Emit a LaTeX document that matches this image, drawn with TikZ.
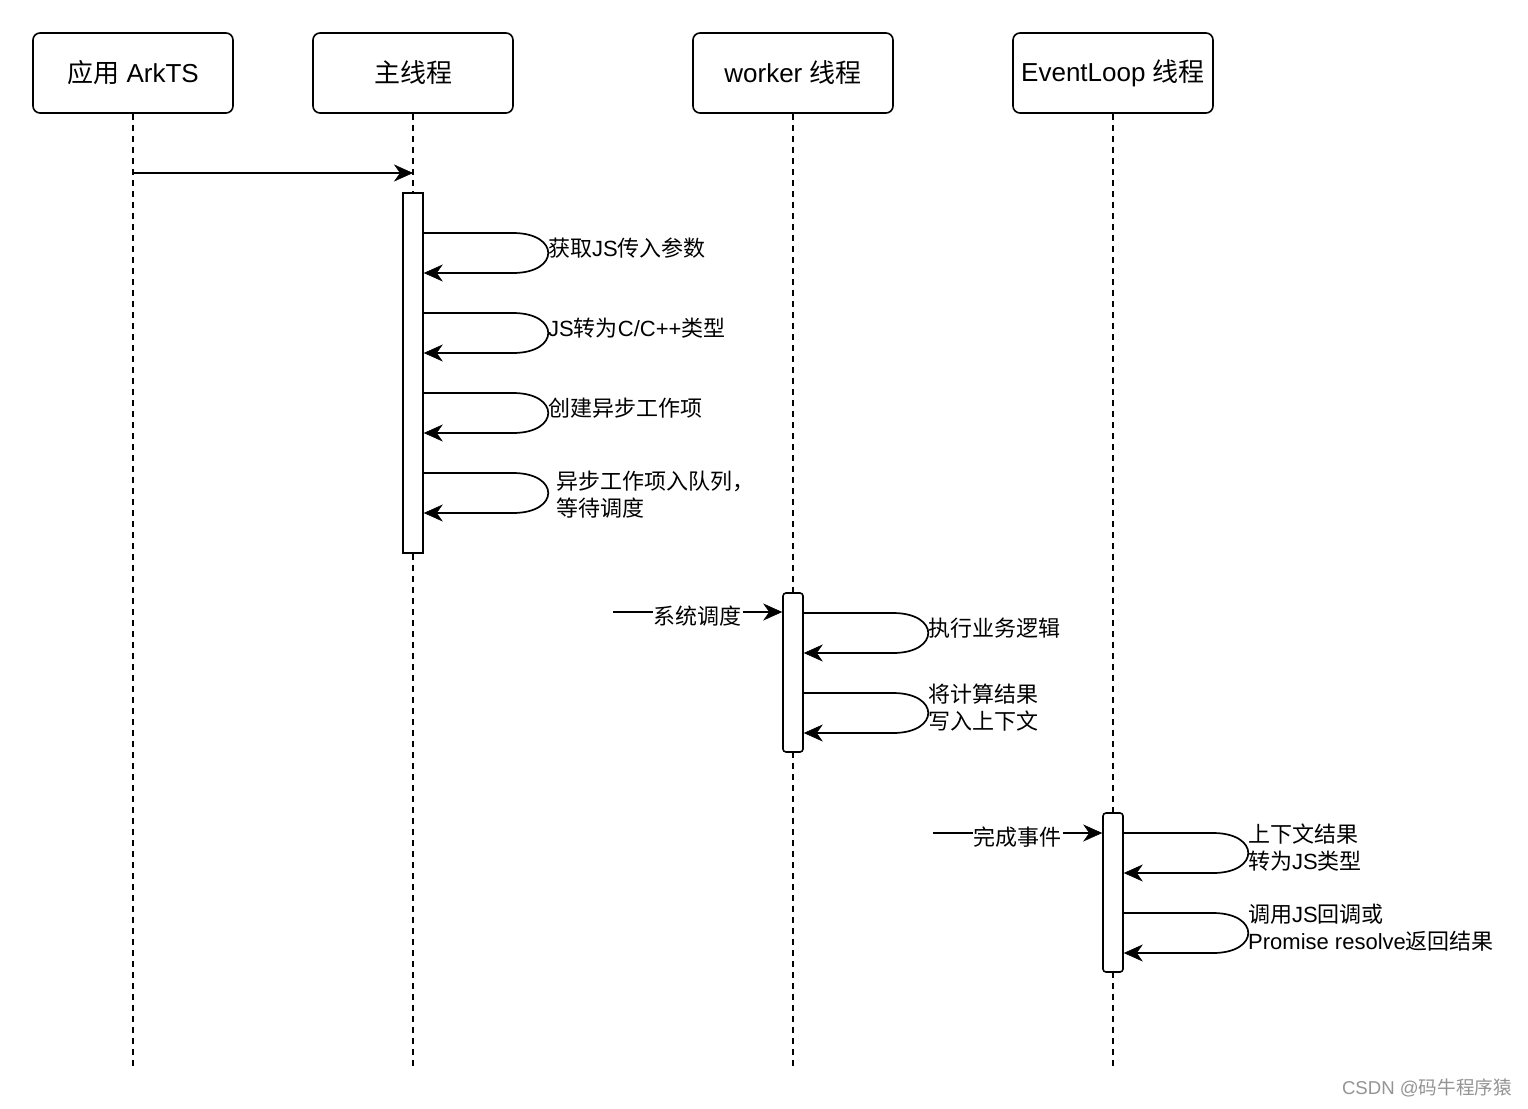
\documentclass[tikz,border=0pt]{standalone}
\usepackage{fontspec}
\setmainfont{Liberation Sans}
\newfontfamily\cjk{Noto Sans CJK SC}
\usetikzlibrary{arrows.meta}
\newcommand\selfloop[4]{%
  \draw[msg] (#1.east |- 0,#2) -- (#4,#2) .. controls (#4+47,#2) and (#4+47,#3) .. (#4,#3) -- (#1.east |- 0,#3);}
\begin{document}
\begin{tikzpicture}[x=1pt,y=-1pt,
  head/.style={draw, rounded corners=7pt, line width=1.6pt, minimum width=200pt, minimum height=80pt, font=\fontsize{26}{30}\selectfont, inner sep=0},
  life/.style={line width=1.5pt, dash pattern=on 6pt off 5pt},
  act/.style={draw, fill=white, line width=1.6pt, minimum width=20pt, inner sep=0},
  msg/.style={line width=1.7pt, -{Stealth[length=19pt,width=17pt,inset=6pt,line width=0.5pt]}},
  lbl/.style={font=\fontsize{22}{27}\selectfont, inner sep=0, anchor=west, align=left},
  inlbl/.style={font=\fontsize{22}{27}\selectfont, fill=white, inner sep=1pt, yshift=-4pt},
]
\useasboundingbox[fill=white] (0,0) rectangle (1528,1108);

% headers
\node[head] (h1) at (133,73) {{\cjk 应用} ArkTS};
\node[head] (h2) at (413,73) {{\cjk 主线程}};
\node[head] (h3) at (793,73) {worker {\cjk 线程}};
\node[head] (h4) at (1113,73) {EventLoop {\cjk 线程}};

% lifelines
\foreach \h in {h1,h2,h3,h4}
  \draw[life] (\h.south) -- (\h.south |- 0,1067);

% call from app to main thread
\draw[msg] (h1.south |- 0,173) -- (h2.south |- 0,173);

% activation bars
\node[act, minimum height=360pt] (b1) at (413,373) {};
\node[act, rounded corners=3pt, minimum height=159pt] (b2) at (793,672.5) {};
\node[act, rounded corners=3pt, minimum height=159pt] (b3) at (1113,892.5) {};

% main thread self calls
\selfloop{b1}{233}{273}{513}
\selfloop{b1}{313}{353}{513}
\selfloop{b1}{393}{433}{513}
\selfloop{b1}{473}{513}{513}
\node[lbl] (l1) at (548,248) {{\cjk 获取}JS{\cjk 传入参数}};
\node[lbl] (l2) at (548,328) {JS{\cjk 转为}C/C++{\cjk 类型}};
\node[lbl] (l3) at (548,408) {{\cjk 创建异步工作项}};
\node[lbl] (l4) at (556,494.5) {{\cjk 异步工作项入队列，}\\{\cjk 等待调度}};

% worker thread
\coordinate (s1) at (613,612);
\draw[msg] (s1) -- node[inlbl] (l5) {{\cjk 系统调度}} (b2.west |- s1);
\selfloop{b2}{613}{653}{893}
\selfloop{b2}{693}{733}{893}
\node[lbl] (l6) at (928,628) {{\cjk 执行业务逻辑}};
\node[lbl] (l7) at (928,708) {{\cjk 将计算结果}\\{\cjk 写入上下文}};

% event loop thread
\coordinate (s2) at (933,833);
\draw[msg] (s2) -- node[inlbl] (l8) {{\cjk 完成事件}} (b3.west |- s2);
\selfloop{b3}{833}{873}{1213}
\selfloop{b3}{913}{953}{1213}
\node[lbl] (l9) at (1248,847.5) {{\cjk 上下文结果}\\{\cjk 转为}JS{\cjk 类型}};
\node[lbl] (l10) at (1248,927.5) {{\cjk 调用}JS{\cjk 回调或}\\Promise resolve{\cjk 返回结果}};

% watermark
\node[font=\fontsize{18.6}{22}\selectfont, text=black!42, anchor=east, inner sep=0] (wm) at (1512,1088) {CSDN @{\cjk 码牛程序猿}};
\end{tikzpicture}
\end{document}
